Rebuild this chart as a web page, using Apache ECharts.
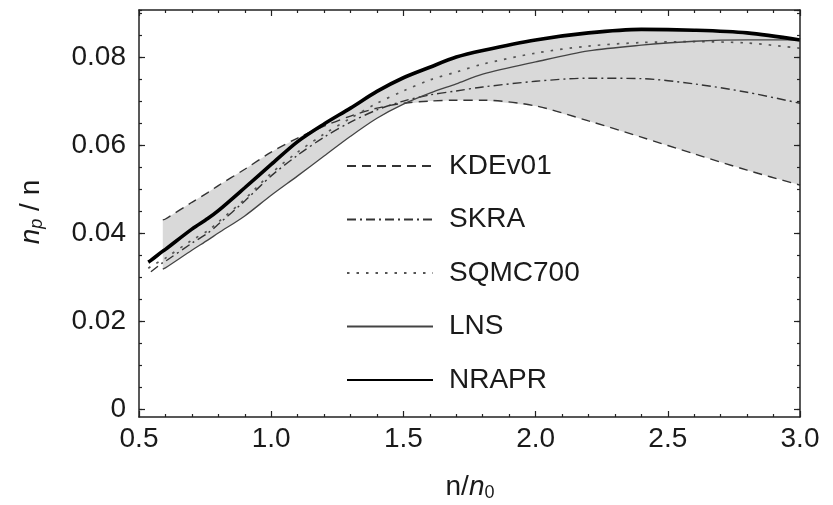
<!DOCTYPE html>
<html>
<head>
<meta charset="utf-8">
<script src="https://cdn.jsdelivr.net/npm/echarts@6/dist/echarts.min.js"></script>
<style>html,body{margin:0;padding:0;background:#fff;}#c{width:833px;height:505px;}</style>
</head>
<body>
<div id="c"></div>
<script>
// ---- data ----
const xs    = [0.535, 0.545, 0.59, 0.6, 0.7, 0.76, 0.8, 0.9, 1.0, 1.1, 1.2, 1.3, 1.4, 1.5, 1.6, 1.7, 1.8, 2.0, 2.2, 2.4, 2.6, 2.8, 3.0];
const NRAPR = [0.0334, 0.0338, 0.0359, 0.0363, 0.0409, 0.0433, 0.0451, 0.0503, 0.0556, 0.0608, 0.0648, 0.0684, 0.0722, 0.0753, 0.0777, 0.0800, 0.0815, 0.0839, 0.0855, 0.0863, 0.0861, 0.0855, 0.0839];
const KDEv01= [null, null, 0.0430, 0.0432, 0.0470, 0.0492, 0.0508, 0.0545, 0.0584, 0.0616, 0.0643, 0.0666, 0.0684, 0.0695, 0.0700, 0.0702, 0.0702, 0.0689, 0.0655, 0.0618, 0.0580, 0.0543, 0.0509];
const SKRA  = [null, 0.0312, 0.0333, 0.0336, 0.0377, 0.0400, 0.0420, 0.0473, 0.0530, 0.0577, 0.0618, 0.0652, 0.0680, 0.0700, 0.0714, 0.0723, 0.0732, 0.0745, 0.0752, 0.0751, 0.0739, 0.0720, 0.0695];
const SQMC700=[0.0320, 0.0324, 0.0340, 0.0343, 0.0384, 0.0405, 0.0425, 0.0477, 0.0536, 0.0584, 0.0625, 0.0661, 0.0695, 0.0723, 0.0748, 0.0766, 0.0784, 0.0809, 0.0825, 0.0833, 0.0835, 0.0832, 0.0820];
const LNS   = [null, null, 0.0318, 0.0321, 0.0361, 0.0384, 0.0400, 0.0439, 0.0486, 0.0530, 0.0575, 0.0620, 0.0661, 0.0693, 0.0718, 0.0739, 0.0761, 0.0789, 0.0814, 0.0827, 0.0836, 0.0839, 0.0839];
const xTicks = { min: 0.5, max: 3.0, interval: 0.5 };
const yTicks = { min: 0, max: 0.0907, interval: 0.02, minor: 0.005 };
const yFrame = { min: -0.0018, max: 0.0907 };

// ---- build ----
const FONT = 'Liberation Sans, Arial, sans-serif';
const TXT = '#1a1a1a';
const AX = '#222';
const pairs = arr => xs.map((x, i) => arr[i] == null ? null : [x, arr[i]]).filter(p => p);
const all = [KDEv01, SKRA, SQMC700, LNS, NRAPR];
const envHi = [], envLo = [];
xs.forEach((x, i) => {
  const v = all.map(a => a[i]);
  if (v.some(e => e == null)) return;
  envHi.push([x, Math.max(...v)]);
  envLo.push([x, Math.min(...v)]);
});
const SM = 0.3;
const lineSeries = (name, data, ls) => ({
  name, type: 'line', xAxisIndex: 0, yAxisIndex: 0, data: pairs(data),
  symbol: 'none', smooth: SM, lineStyle: ls, z: 5, silent: true
});

const chart = echarts.init(document.getElementById('c'), null, { renderer: 'canvas' });
const tickStyle = { color: AX, width: 1.2 };
const option = {
  animation: false,
  backgroundColor: '#fff',
  grid: [
    { left: 139, right: 33, top: 10, bottom: 88 },
    { left: 139, right: 33, top: 10, bottom: 95.9 }
  ],
  xAxis: [
    { type: 'value', gridIndex: 0, position: 'bottom', min: xTicks.min, max: xTicks.max, interval: xTicks.interval, z: 10,
      axisLine: { show: true, onZero: false, lineStyle: { color: AX, width: 1.5 } },
      axisTick: { show: true, inside: true, length: 6, lineStyle: tickStyle },
      minorTick: { show: true, splitNumber: 5, length: 3, lineStyle: tickStyle },
      axisLabel: { fontSize: 28, fontFamily: FONT, color: TXT, margin: 8, formatter: v => v.toFixed(1) },
      splitLine: { show: false } },
    { type: 'value', gridIndex: 0, position: 'top', min: xTicks.min, max: xTicks.max, interval: xTicks.interval, z: 10,
      axisLine: { show: true, onZero: false, lineStyle: { color: AX, width: 1.5 } },
      axisTick: { show: true, inside: true, length: 6, lineStyle: tickStyle },
      minorTick: { show: true, splitNumber: 5, length: 3, lineStyle: tickStyle },
      axisLabel: { show: false }, splitLine: { show: false } },
    { type: 'value', gridIndex: 1, show: false, min: xTicks.min, max: xTicks.max }
  ],
  yAxis: [
    { type: 'value', gridIndex: 0, position: 'left', min: yFrame.min, max: yFrame.max, z: 10,
      axisLine: { show: true, onZero: false, lineStyle: { color: AX, width: 1.5 } },
      axisTick: { show: false }, axisLabel: { show: false }, splitLine: { show: false } },
    { type: 'value', gridIndex: 0, position: 'right', min: yFrame.min, max: yFrame.max, z: 10,
      axisLine: { show: true, onZero: false, lineStyle: { color: AX, width: 1.5 } },
      axisTick: { show: false }, axisLabel: { show: false }, splitLine: { show: false } },
    { type: 'value', gridIndex: 1, position: 'left', min: yTicks.min, max: yTicks.max, interval: yTicks.interval, z: 10,
      axisLine: { show: false, onZero: false },
      axisTick: { show: true, inside: true, length: 6, lineStyle: tickStyle },
      axisLabel: { fontSize: 28, fontFamily: FONT, color: TXT, margin: 13, showMaxLabel: false,
        formatter: v => (Math.abs(v - Math.round(v / 0.02) * 0.02) > 1e-6) ? '' : (v === 0 ? '0' : v.toFixed(2)) },
      splitLine: { show: false } },
    { type: 'value', gridIndex: 1, position: 'left', min: yTicks.min, max: yTicks.max, interval: yTicks.minor, z: 10,
      axisLine: { show: false, onZero: false },
      axisTick: { show: true, inside: true, length: 3, lineStyle: tickStyle },
      axisLabel: { show: false }, splitLine: { show: false } },
    { type: 'value', gridIndex: 1, position: 'right', min: yTicks.min, max: yTicks.max, interval: yTicks.interval, z: 10,
      axisLine: { show: false, onZero: false },
      axisTick: { show: true, inside: true, length: 6, lineStyle: tickStyle },
      axisLabel: { show: false }, splitLine: { show: false } },
    { type: 'value', gridIndex: 1, position: 'right', min: yTicks.min, max: yTicks.max, interval: yTicks.minor, z: 10,
      axisLine: { show: false, onZero: false },
      axisTick: { show: true, inside: true, length: 3, lineStyle: tickStyle },
      axisLabel: { show: false }, splitLine: { show: false } }
  ],
  legend: {
    data: ['KDEv01', 'SKRA', 'SQMC700', 'LNS', 'NRAPR'],
    orient: 'vertical', left: 346, top: 152, itemGap: 25.5, padding: 0,
    itemWidth: 86, itemHeight: 14,
    itemStyle: { color: 'rgba(0,0,0,0)', borderWidth: 0, opacity: 0 },
    textStyle: { fontSize: 28, fontFamily: FONT, color: TXT, lineHeight: 28, padding: [0, 0, 0, 11] },
    selectedMode: false
  },
  series: [
    { name: '_band', type: 'custom', xAxisIndex: 0, yAxisIndex: 0, data: [0], z: 1, silent: true, clip: true,
      renderItem: (params, api) => {
        const pts = envHi.map(p => api.coord(p)).concat(envLo.slice().reverse().map(p => api.coord(p)));
        return { type: 'polygon', shape: { points: pts }, style: { fill: '#d9d9d9', stroke: null } };
      } },
    lineSeries('KDEv01', KDEv01, { color: '#333', width: 1.4, type: [9, 6] }),
    lineSeries('SKRA', SKRA, { color: '#333', width: 1.4, type: [9, 4, 2, 4] }),
    lineSeries('SQMC700', SQMC700, { color: '#555', width: 1.7, type: [2.5, 7] }),
    lineSeries('LNS', LNS, { color: '#444', width: 1.3 }),
    lineSeries('NRAPR', NRAPR, { color: '#000', width: 3.6 })
  ],
  graphic: [
    { type: 'text', x: 470, y: 487, silent: true,
      style: { text: '{r|n/}{i|n}{s|0}', align: 'center', verticalAlign: 'middle',
        rich: {
          r: { fontSize: 28, fontFamily: FONT, fill: TXT, lineHeight: 30, verticalAlign: 'middle' },
          i: { fontSize: 28, fontFamily: FONT, fill: TXT, fontStyle: 'italic', lineHeight: 30, verticalAlign: 'middle' },
          s: { fontSize: 18, fontFamily: FONT, fill: TXT, lineHeight: 30, verticalAlign: 'bottom' }
        } } },
    { type: 'text', x: 31, y: 212, rotation: Math.PI / 2, silent: true,
      style: { text: '{i|n}{s|p}{r| / n}', align: 'center', verticalAlign: 'middle',
        rich: {
          r: { fontSize: 28, fontFamily: FONT, fill: TXT, lineHeight: 30, verticalAlign: 'middle' },
          i: { fontSize: 28, fontFamily: FONT, fill: TXT, fontStyle: 'italic', lineHeight: 30, verticalAlign: 'middle' },
          s: { fontSize: 18, fontFamily: FONT, fill: TXT, fontStyle: 'italic', lineHeight: 30, verticalAlign: 'bottom' }
        } } }
  ]
};
chart.setOption(option);
</script>
</body>
</html>
